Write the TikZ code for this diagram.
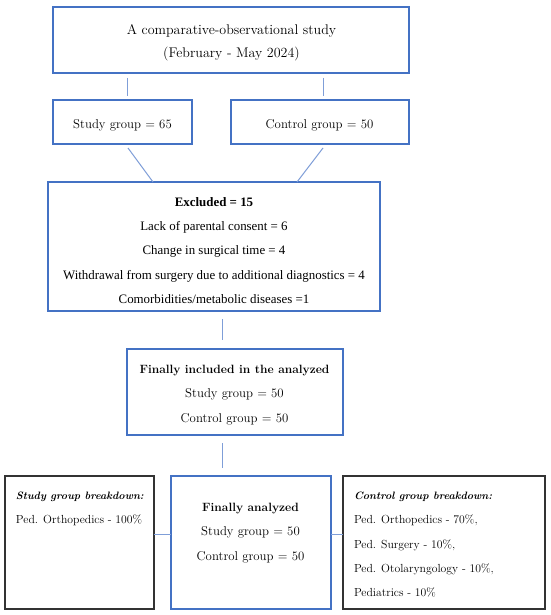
\documentclass[tikz,border=0pt]{standalone}
\usepackage{fontspec}
\newfontfamily\timesfont{Liberation Serif}
\usetikzlibrary{calc}
\definecolor{boxblue}{HTML}{4472C4}
\definecolor{linkblue}{HTML}{7F9ED8}
\definecolor{boxgray}{HTML}{333333}
\begin{document}
\begin{tikzpicture}[x=1pt,y=-1pt,
  bluebox/.style={draw=boxblue,line width=1.6pt,rectangle,inner sep=0pt,outer sep=0pt},
  graybox/.style={draw=boxgray,line width=1.6pt,rectangle,inner sep=0pt,outer sep=0pt},
  conn/.style={draw=linkblue,line width=1pt},
  txt/.style={inner sep=0pt,outer sep=0pt,align=center},
  ltxt/.style={inner sep=0pt,outer sep=0pt,anchor=mid west,font=\fontsize{11.7}{14}\selectfont},
  lhead/.style={inner sep=0pt,outer sep=0pt,anchor=mid west,font=\fontsize{10.7}{14}\selectfont\bfseries\itshape}
]
\useasboundingbox (0,0) rectangle (550,615);
\fill[white] (0,0) rectangle (550,615);

% boxes
\node[bluebox,minimum width=356pt,minimum height=66pt] (top) at (231,40) {};
\node[bluebox,minimum width=139pt,minimum height=44pt] (study) at (122.5,122) {};
\node[bluebox,minimum width=178pt,minimum height=44pt] (ctrl) at (320,122) {};
\node[bluebox,minimum width=332pt,minimum height=129pt] (excl) at (214,246.5) {};
\node[bluebox,minimum width=216pt,minimum height=86pt] (incl) at (235,392) {};
\node[bluebox,minimum width=160pt,minimum height=133pt] (ana) at (251,542.5) {};
\node[graybox,minimum width=149pt,minimum height=133pt] (left) at (79.5,542.5) {};
\node[graybox,minimum width=202pt,minimum height=133pt] (right) at (444,542.5) {};

% texts
\node[txt,font=\fontsize{14}{23}\selectfont] (toptext) at (231.5,43)
  {A comparative-observational study\\(February - May 2024)};
\node[txt,font=\fontsize{12.8}{15}\selectfont] (studytext) at (122.5,125.5) {Study group = 65};
\node[txt,font=\fontsize{12.8}{15}\selectfont] (ctrltext) at (319.5,125.5) {Control group = 50};
\node[txt,font=\timesfont\fontsize{12.9}{24.25}\selectfont] (excltext) at (214,250.5)
  {\textbf{Excluded = 15}\\Lack of parental consent = 6\\Change in surgical time = 4\\Withdrawal from surgery due to additional diagnostics = 4\\Comorbidities/metabolic diseases =1};
\node[txt,font=\fontsize{12.8}{24.5}\selectfont] (incltext) at (234.5,395)
  {{\fontsize{12}{24.5}\selectfont\bfseries Finally included in the analyzed}\\Study group = 50\\Control group = 50};
\node[txt,font=\fontsize{12.8}{24.5}\selectfont] (anatext) at (250.5,533)
  {{\fontsize{12}{24.5}\selectfont\bfseries Finally analyzed}\\Study group = 50\\Control group = 50};
\node[lhead] (lt1) at (16,497) {Study group breakdown:};
\node[ltxt] (lt2) at (16,521) {Ped. Orthopedics - 100\%};
\node[lhead] (rt1) at (354,497) {Control group breakdown:};
\node[ltxt] (rt2) at (354,521.5) {Ped. Orthopedics - 70\%,};
\node[ltxt] (rt3) at (354,546) {Ped. Surgery - 10\%,};
\node[ltxt] (rt4) at (354,570) {Ped. Otolaryngology - 10\%,};
\node[ltxt] (rt5) at (354,594) {Pediatrics - 10\%};

% connectors
\draw[conn] ($(top.south -| study.north)+(4.5,5)$) -- ($(study.north)+(4.5,-4)$);
\draw[conn] ($(top.south -| ctrl.north)+(3,5)$) -- ($(ctrl.north)+(3,-4)$);
\draw[conn] ($(study.south)+(5.5,4)$) -- ($(excl.north)+(-61,0)$);
\draw[conn] ($(ctrl.south)+(3,4)$) -- ($(excl.north)+(83,0)$);
\draw[conn] ($(excl.south)+(8,8)$) -- ($(incl.north)+(-13,-9)$);
\draw[conn] ($(incl.south)+(-13,8)$) -- ($(ana.north)+(-29,-8)$);
\draw[conn] ($(left.east)+(0,-8.5)$) -- ($(ana.west)+(0,-8.5)$);
\draw[conn] ($(ana.east)+(0,-8.5)$) -- ($(right.west)+(0,-8.5)$);
\end{tikzpicture}
\end{document}
